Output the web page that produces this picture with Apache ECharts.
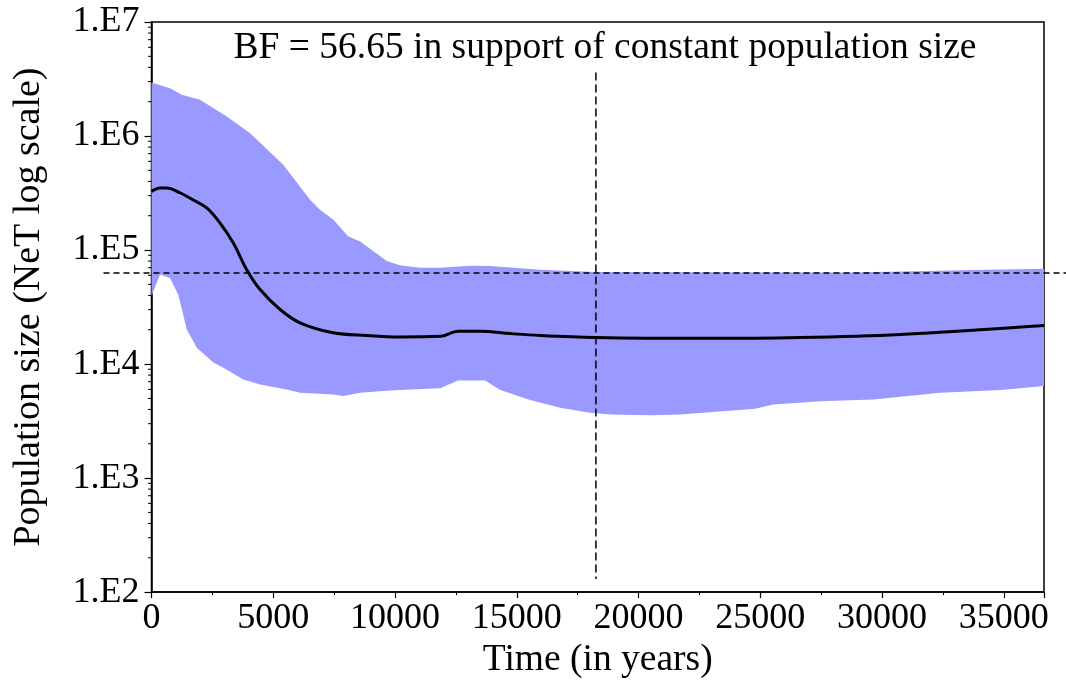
<!DOCTYPE html>
<html><head><meta charset="utf-8">
<script src="https://cdn.jsdelivr.net/npm/echarts@6/dist/echarts.min.js"></script>
<style>html,body{margin:0;padding:0;background:#fff}#c{width:1066px;height:684px}</style>
</head><body><div id="c"></div>
<script>
// ---- data ----
const meanYears = [0, 350, 620, 1170, 1700, 2270, 2810, 3360, 3910, 4460, 5280, 6100, 7460, 8840, 10200, 11850, 12600, 13500, 14730, 15960, 18220, 22530, 26640, 30750, 36650];
const meanNe = [327000, 350000, 350000, 318000, 276000, 234000, 173000, 115000, 67300, 45000, 30100, 23000, 18800, 17800, 17300, 17500, 19400, 19400, 18500, 17800, 17100, 16800, 17100, 18200, 21800];

const upperYears = [0, 760, 1240, 1990, 3090, 4050, 5410, 6510, 6920, 7460, 8070, 8570, 9660, 10200, 11030, 11850, 13080, 13900, 15960, 18220, 22530, 28690, 32800, 36650];
const upperNe = [2940000, 2620000, 2300000, 2080000, 1480000, 1060000, 560000, 276000, 226000, 185000, 132000, 119000, 80000, 73500, 70100, 70100, 72800, 72400, 67300, 64300, 64000, 63400, 66000, 68700];

const lowerYears = [0, 350, 760, 1100, 1450, 1860, 2540, 2950, 3770, 4460, 5550, 6100, 7460, 7870, 8570, 9510, 10200, 11850, 12590, 13700, 14320, 15550, 16780, 18010, 18840, 20480, 21710, 24790, 25530, 27460, 29630, 32390, 34860, 36650];
const lowerNe = [39300, 61000, 57000, 40600, 20100, 13900, 10300, 9290, 7330, 6630, 5990, 5610, 5420, 5240, 5610, 5790, 5910, 6150, 7180, 7180, 5910, 4830, 4140, 3750, 3620, 3550, 3620, 4060, 4430, 4730, 4900, 5610, 5910, 6410];

const thresholdNe = 63000;          // horizontal dashed line
const bfTime = 18250;               // vertical dashed line
const bfLineNeRange = [130, 3600000];

const xTickStep = 5000;
const xMax = 36650;
const yDecades = [100, 1000, 10000, 100000, 1000000, 10000000];
const yMinorMultipliers = [2, 3, 4, 5, 6, 7, 8, 9];
const titleText = 'BF = 56.65 in support of constant population size';
const xName = 'Time (in years)';
const yName = 'Population size (NeT log scale)';

// ---- build ----
const FONT = "'Liberation Serif', 'Times New Roman', serif";
const yMinorTicks = [];
yDecades.slice(0, -1).forEach(d => yMinorMultipliers.forEach(m => yMinorTicks.push([0, d * m])));
const meanData = meanYears.map((x, i) => [x, meanNe[i]]);
const upperData = upperYears.map((x, i) => [x, upperNe[i]]);
const lowerData = lowerYears.map((x, i) => [x, lowerNe[i]]);

const chart = echarts.init(document.getElementById('c'));
chart.setOption({
  animation: false,
  backgroundColor: '#fff',
  title: {
    text: titleText, left: 600, top: 24, textAlign: 'center',
    textStyle: { fontFamily: FONT, fontSize: 37.5, fontWeight: 'normal', color: '#000' }
  },
  grid: { left: 151.5, right: 22, top: 22, bottom: 91, show: true, borderColor: '#000', borderWidth: 1.5, backgroundColor: 'transparent' },
  xAxis: {
    type: 'value', min: 0, max: xMax, interval: xTickStep,
    name: xName, nameLocation: 'middle', nameGap: 46,
    nameTextStyle: { fontFamily: FONT, fontSize: 37.5, color: '#000' },
    axisLine: { lineStyle: { color: '#000', width: 1.5 } },
    axisTick: { length: 6, lineStyle: { color: '#000', width: 1.2 } },
    minorTick: { show: true, splitNumber: 2, length: 3, lineStyle: { color: '#000', width: 1 } },
    axisLabel: { fontFamily: FONT, fontSize: 36, color: '#000', margin: 8,
      formatter: v => (v % xTickStep === 0) ? String(v) : '' },
    splitLine: { show: false }
  },
  yAxis: {
    type: 'log', logBase: 10, min: yDecades[0], max: yDecades[yDecades.length - 1],
    name: yName, nameLocation: 'middle', nameGap: 103,
    nameTextStyle: { fontFamily: FONT, fontSize: 38, color: '#000' },
    axisLine: { show: true, lineStyle: { color: '#000', width: 1.5 } },
    axisTick: { show: true, length: 7, lineStyle: { color: '#000', width: 1.2 } },
    axisLabel: { fontFamily: FONT, fontSize: 36, color: '#000', margin: 12,
      formatter: v => '1.E' + Math.round(Math.log10(v)) },
    splitLine: { show: false }
  },
  series: [
    {
      type: 'custom', name: 'band', z: 1,
      data: [[0, 1000]],
      renderItem: (params, api) => {
        const pts = upperData.map(p => api.coord(p));
        for (let i = lowerData.length - 1; i >= 0; i--) pts.push(api.coord(lowerData[i]));
        return { type: 'polygon', shape: { points: pts }, style: { fill: '#9999ff', stroke: null } };
      }
    },
    {
      type: 'line', name: 'mean', z: 3, data: meanData, showSymbol: false, smooth: 0.35,
      lineStyle: { color: '#000', width: 3 }
    },
    {
      type: 'custom', name: 'refLines', z: 5,
      data: [[bfTime, thresholdNe]],
      renderItem: (params, api) => {
        const cs = params.coordSys;
        const h = api.coord([0, thresholdNe]);
        const vTop = api.coord([bfTime, bfLineNeRange[1]]);
        const vBot = api.coord([bfTime, bfLineNeRange[0]]);
        return { type: 'group', children: [
          { type: 'line', shape: { x1: cs.x - 48, y1: h[1], x2: cs.x + cs.width + 22, y2: h[1] },
            style: { stroke: '#000', lineWidth: 1.5, lineDash: [6, 4] } },
          { type: 'line', shape: { x1: vTop[0], y1: vTop[1], x2: vBot[0], y2: vBot[1] },
            style: { stroke: '#000', lineWidth: 1.5, lineDash: [8, 4] } }
        ]};
      }
    },
    {
      type: 'custom', name: 'yMinorTicks', z: 6, clip: false,
      data: yMinorTicks,
      renderItem: (params, api) => {
        const p = api.coord([api.value(0), api.value(1)]);
        return { type: 'line', shape: { x1: p[0] - 3.5, y1: p[1], x2: p[0], y2: p[1] },
          style: { stroke: '#000', lineWidth: 1 } };
      }
    }
  ]
});
</script>
</body></html>
